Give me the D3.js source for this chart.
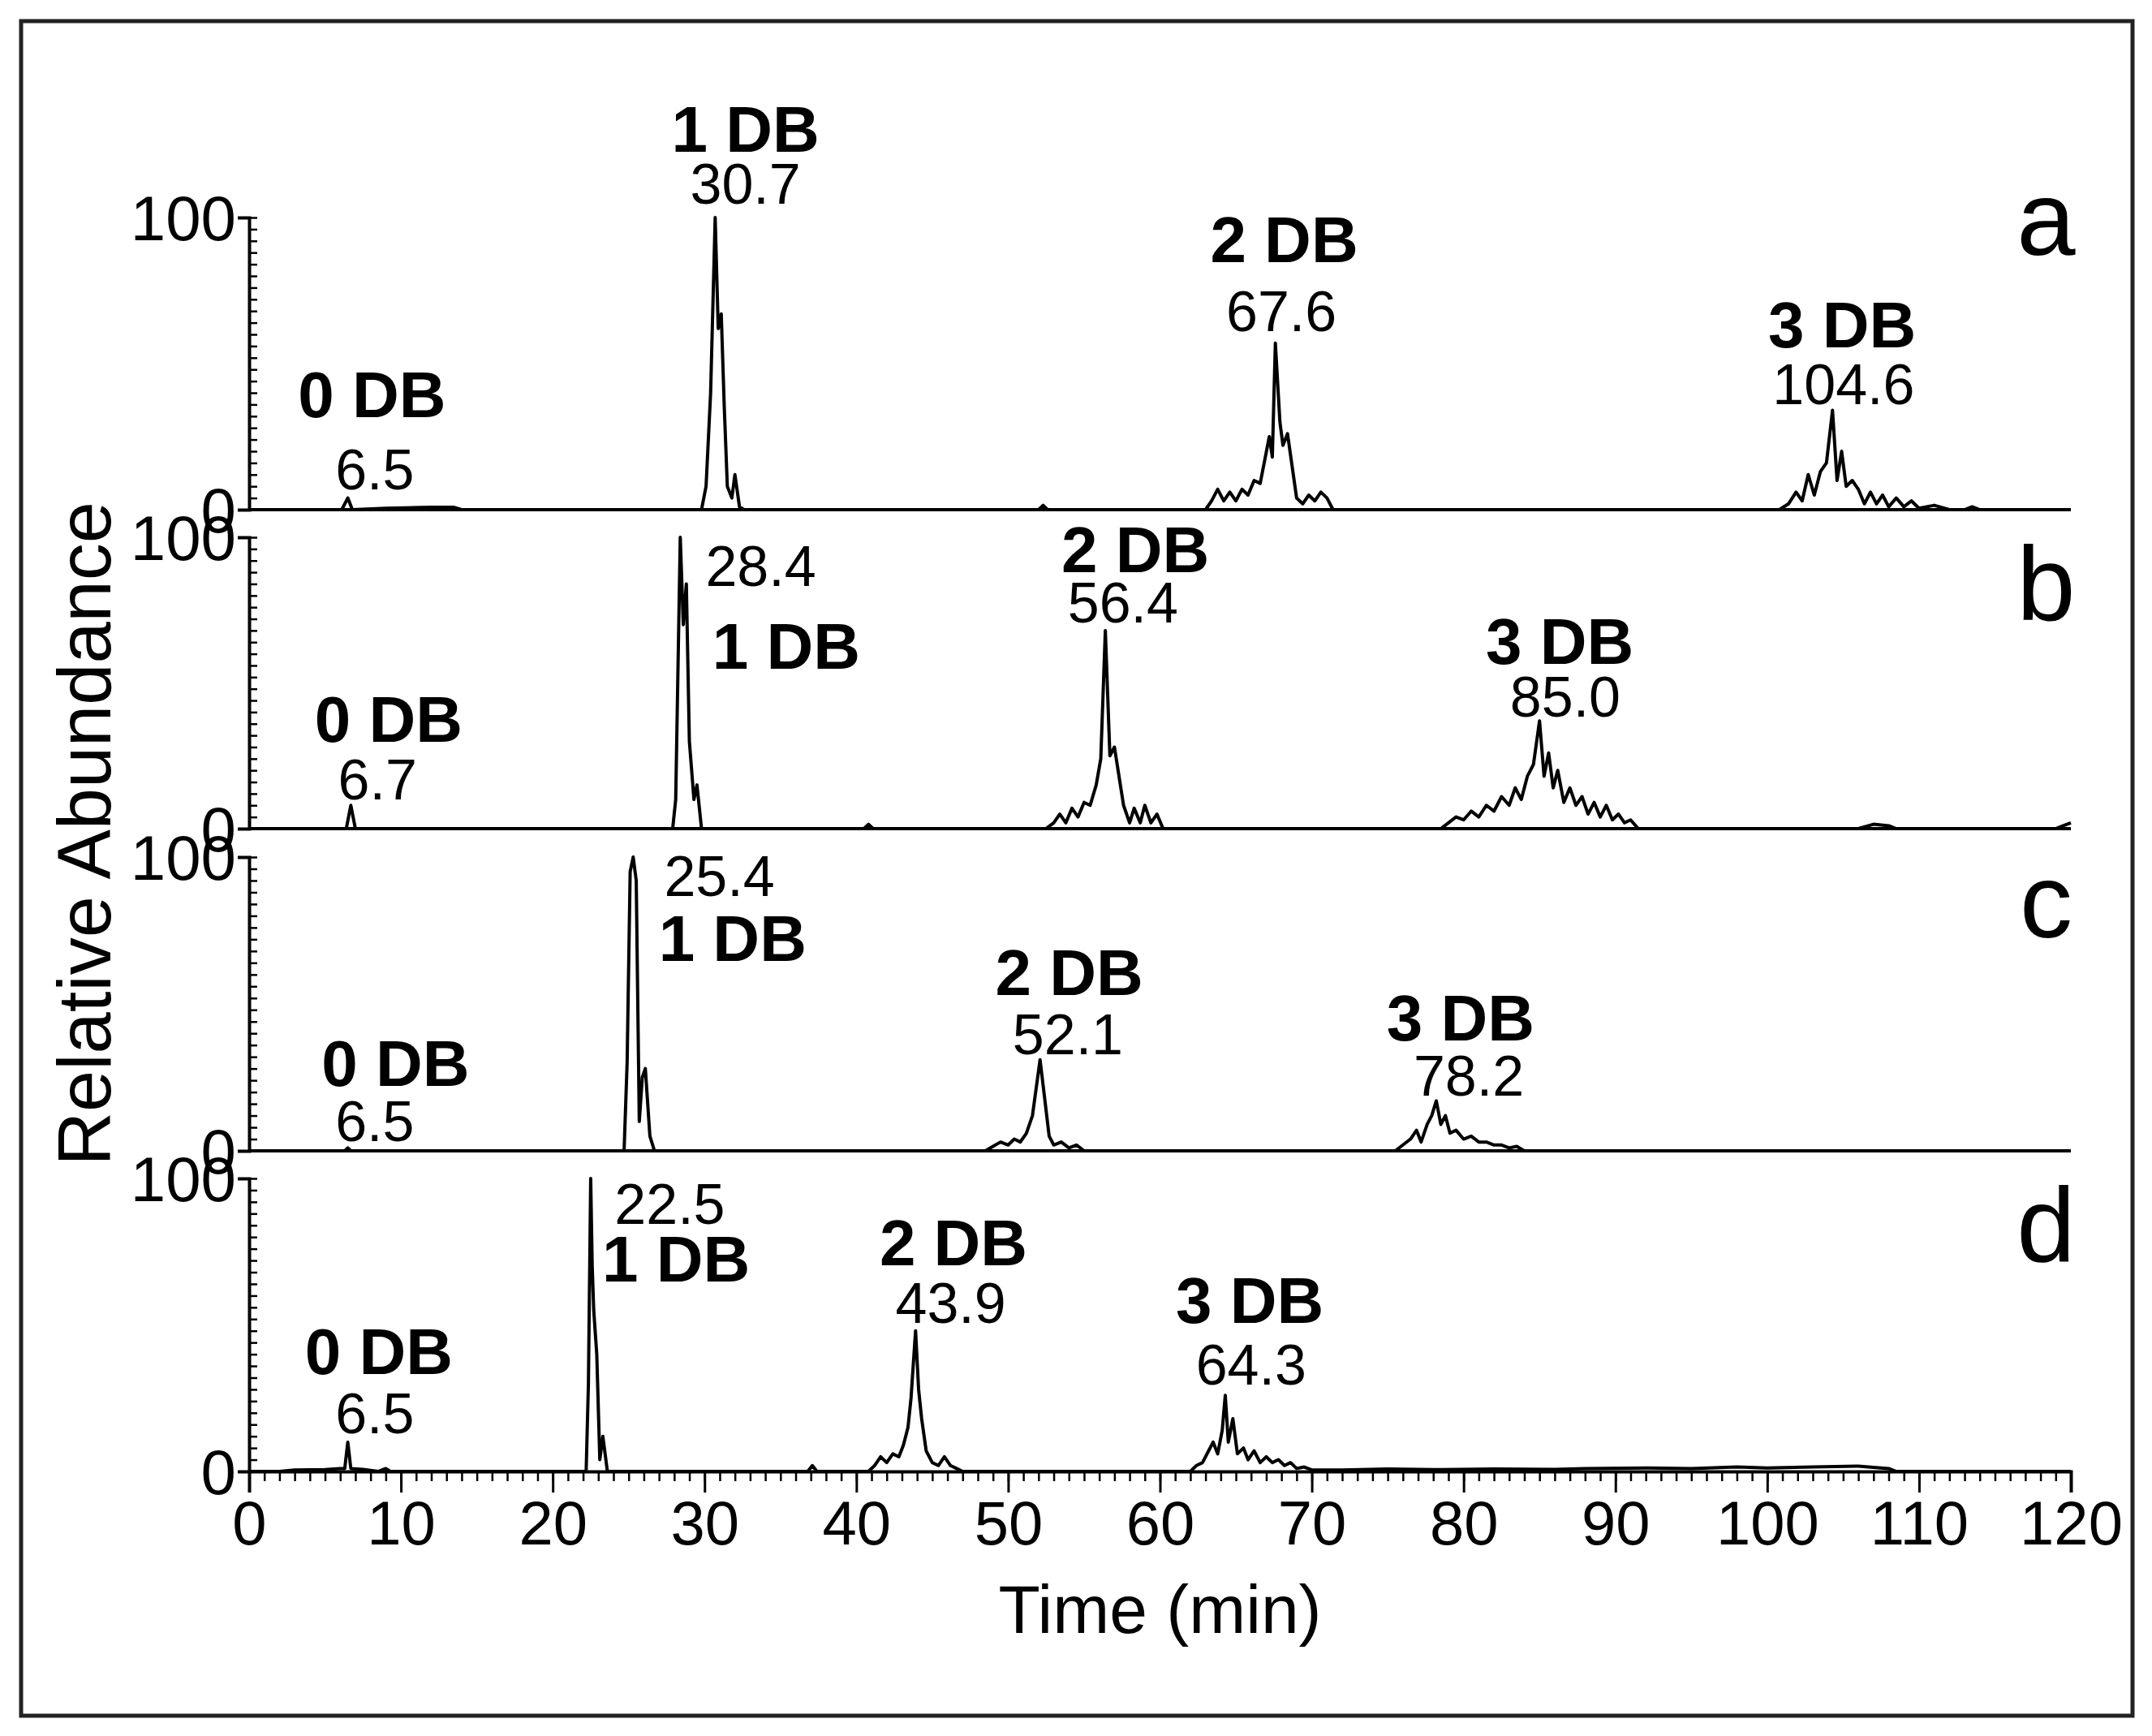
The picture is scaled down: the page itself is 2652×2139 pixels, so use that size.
<!DOCTYPE html>
<html><head><meta charset="utf-8">
<script src="https://cdn.jsdelivr.net/npm/d3@7"></script>
<style>body{margin:0;background:#fff}svg{display:block}</style>
</head><body>
<svg id="c" width="2652" height="2139"></svg>
<script>
// ---- data (time min, relative abundance %) ----
const panelNames = ["a","b","c","d"];
const traceA = [[0,0],[6.1,0],[6.5,4],[6.8,0],[9,0.5],[12,0.8],[13.5,0.8],[14,0],[29.8,0],[30.1,8],[30.4,40],[30.7,100],[30.9,62],[31.1,67],[31.3,35],[31.5,8],[31.8,4],[32,12],[32.3,1],[32.6,0],[52,0],[52.3,1.5],[52.6,0],[63,0],[63.4,3],[63.8,7],[64.2,3],[64.6,6],[65,3],[65.4,7],[65.8,5],[66.2,10],[66.6,9],[66.9,17],[67.2,25],[67.4,18],[67.6,57],[67.9,30],[68.1,22],[68.4,26],[68.7,15],[69,4],[69.4,2],[69.8,5],[70.2,3],[70.6,6],[71,4],[71.4,0],[100.8,0],[101.4,2],[101.9,6],[102.3,3],[102.7,12],[103.1,5],[103.5,13],[103.9,16],[104.3,34],[104.6,10],[104.9,20],[105.2,8],[105.6,10],[106,7],[106.4,2],[106.8,6],[107.2,2],[107.6,5],[108,1],[108.5,4],[109,1],[109.5,3],[110,0.5],[111,1.5],[112,0],[113,0],[113.5,1],[114,0],[120,0]];
const traceB = [[0,0],[6.4,0],[6.7,8],[7,0],[27.9,0],[28.1,10],[28.4,100],[28.6,70],[28.8,84],[29,30],[29.3,10],[29.5,15],[29.8,0],[40.5,0],[40.8,1.5],[41.1,0],[52.5,0],[53,2],[53.4,5],[53.8,2],[54.2,7],[54.6,4],[55,9],[55.4,8],[55.8,15],[56.1,24],[56.4,68],[56.7,25],[57,28],[57.3,18],[57.6,8],[58,2],[58.3,7],[58.7,2],[59,8],[59.4,2],[59.8,5],[60.2,0],[78.5,0],[79,2],[79.5,4],[80,3],[80.5,6],[81,4],[81.5,8],[82,6],[82.5,11],[83,8],[83.4,14],[83.8,10],[84.2,18],[84.6,22],[85,37],[85.3,18],[85.6,26],[85.9,14],[86.2,20],[86.6,9],[87,14],[87.4,8],[87.8,11],[88.2,5],[88.6,9],[89,4],[89.4,8],[89.8,3],[90.2,5],[90.6,2],[91,3],[91.5,0],[106,0],[107,1.5],[108,1],[108.5,0],[119,0],[120,2]];
const traceC = [[0,0],[6.3,0],[6.5,1],[6.7,0],[24.7,0],[24.9,30],[25.1,95],[25.3,100],[25.5,92],[25.7,10],[25.9,25],[26.1,28],[26.4,5],[26.7,0],[48.5,0],[49,1.5],[49.5,3],[50,2],[50.4,4],[50.8,3],[51.2,6],[51.6,12],[52.1,31],[52.4,18],[52.7,5],[53,2],[53.5,3],[54,1],[54.5,2],[55,0],[75.5,0],[76,2],[76.5,4],[76.9,7],[77.2,3],[77.6,9],[77.9,12],[78.2,17],[78.5,9],[78.8,12],[79.1,6],[79.5,7],[80,4],[80.5,5],[81,3],[81.5,3],[82,2],[82.5,2],[83,1],[83.5,1.5],[84,0],[120,0]];
const traceD = [[0,0],[2,0],[3,0.5],[5,0.6],[6,1],[6.3,1],[6.5,10],[6.7,1],[7.5,0.7],[8.5,0],[9,1],[9.3,0],[22.2,0],[22.35,30],[22.5,100],[22.6,70],[22.7,55],[22.9,40],[23.1,4],[23.3,12],[23.6,0],[36.8,0],[37.1,2],[37.4,0],[40.8,0],[41.2,2],[41.6,5],[42,3],[42.4,6],[42.8,5],[43.1,9],[43.4,15],[43.6,25],[43.9,48],[44.1,28],[44.3,18],[44.6,7],[45,3],[45.4,2],[45.8,5],[46.2,2],[46.6,1],[47,0],[62,0],[62.4,2],[62.8,3],[63.2,7],[63.5,10],[63.8,6],[64.1,14],[64.3,26],[64.5,10],[64.8,18],[65.1,6],[65.5,8],[65.8,4],[66.2,7],[66.6,3],[67,5],[67.4,3],[67.8,4],[68.2,2],[68.6,3],[69,1],[69.5,1.5],[70,0.5],[72,0.5],[75,0.8],[78,0.6],[82,0.8],[86,0.7],[88,1],[92,1.2],[95,1],[98,1.5],[100,1.2],[103,1.5],[106,1.8],[108,1],[108.5,0],[120,0]];
const traces = [traceA, traceB, traceC, traceD];
const xTicks = [0,10,20,30,40,50,60,70,80,90,100,110,120];
const yTickLabels = ["0","100"];
// labels: [panel, text, bold, anchor, xpx, ypx] (positions in layout pixels)
const k = 1.698;
const labels = [
 [0,"0 DB",1,"middle",270,303],[0,"6.5",0,"middle",272,355],[0,"1 DB",1,"middle",541,110],[0,"30.7",0,"middle",541,148],
 [0,"2 DB",1,"middle",932,190],[0,"67.6",0,"middle",930,240],[0,"3 DB",1,"middle",1337,252],[0,"104.6",0,"middle",1338,293],
 [1,"0 DB",1,"middle",282,538],[1,"6.7",0,"middle",274,580],[1,"28.4",0,"start",512,425],[1,"1 DB",1,"start",517,485],
 [1,"2 DB",1,"middle",824,415],[1,"56.4",0,"middle",815,452],[1,"3 DB",1,"middle",1132,482],[1,"85.0",0,"middle",1136,520],
 [2,"0 DB",1,"middle",287,788],[2,"6.5",0,"middle",272,828],[2,"25.4",0,"start",482,650],[2,"1 DB",1,"start",478,697],
 [2,"2 DB",1,"middle",776,722],[2,"52.1",0,"middle",775,765],[2,"3 DB",1,"middle",1060,755],[2,"78.2",0,"middle",1066,795],
 [3,"0 DB",1,"middle",275,997],[3,"6.5",0,"middle",272,1040],[3,"22.5",0,"start",446,888],[3,"1 DB",1,"start",437,930],
 [3,"2 DB",1,"middle",692,918],[3,"43.9",0,"middle",690,960],[3,"3 DB",1,"middle",907,960],[3,"64.3",0,"middle",908,1005]
];
const panelLetterY = [185,450,680,915];

// ---- layout ----
const F = "'Liberation Sans', Arial, sans-serif";
const svg = d3.select("#c");
svg.append("rect").attr("x",26).attr("y",26).attr("width",2602).attr("height",2088)
  .attr("fill","none").attr("stroke","#222").attr("stroke-width",5);
const x = d3.scaleLinear().domain([0,120]).range([307,2552]);
const panels = [[268,628],[662,1021],[1056,1418],[1452,1813]];
panels.forEach((p,i)=>{
  const y = d3.scaleLinear().domain([0,100]).range([p[1],p[0]]);
  const g = svg.append("g");
  const ya = d3.axisLeft(y).tickValues([0,100]).tickFormat((d,j)=>yTickLabels[j]).tickSize(14).tickPadding(2);
  const yg = g.append("g").attr("transform","translate(307,0)").call(ya);
  yg.select(".domain").attr("stroke-width",4);
  yg.selectAll(".tick line").attr("stroke-width",3);
  yg.selectAll("text").attr("font-family",F).attr("font-size",78).attr("dy","0.35em");
  const ym = d3.axisRight(y).tickValues(d3.range(0,101,4)).tickFormat("").tickSize(10);
  const ymg = g.append("g").attr("transform","translate(307,0)").call(ym);
  ymg.select(".domain").remove(); ymg.selectAll("line").attr("stroke-width",2.5);
  if(i<3){
    g.append("line").attr("x1",307).attr("x2",2552).attr("y1",y(0)).attr("y2",y(0)).attr("stroke","#000").attr("stroke-width",4);
  } else {
    const xa = d3.axisBottom(x).tickValues(xTicks).tickSize(26).tickPadding(10);
    const xg = g.append("g").attr("transform",`translate(0,${y(0)})`).call(xa);
    xg.select(".domain").attr("stroke-width",4);
    xg.selectAll(".tick line").attr("stroke-width",3);
    xg.selectAll("text").attr("font-family",F).attr("font-size",76);
    const xm = d3.axisBottom(x).tickValues(d3.range(0,121,1)).tickFormat("").tickSize(12);
    const xmg = g.append("g").attr("transform",`translate(0,${y(0)})`).call(xm);
    xmg.select(".domain").remove(); xmg.selectAll("line").attr("stroke-width",2.5);
  }
  const line = d3.line().x(d=>x(d[0])).y(d=>y(d[1]));
  g.append("path").datum(traces[i]).attr("d",line).attr("fill","none").attr("stroke","#000")
    .attr("stroke-width",4).attr("stroke-linejoin","round");
  g.append("text").attr("x",1485*k).attr("y",panelLetterY[i]*k).attr("text-anchor","middle")
    .attr("font-family",F).attr("font-size",130).text(panelNames[i]);
});
svg.selectAll("text.lab").data(labels).enter().append("text").attr("class","lab")
  .attr("x",d=>d[4]*k).attr("y",d=>d[5]*k).attr("text-anchor",d=>d[3])
  .attr("font-family",F).attr("font-weight",d=>d[2]?"bold":"normal")
  .attr("font-size",d=>d[2]?80:70).text(d=>d[1]);
svg.append("text").attr("x",x(60)).attr("y",1185*k).attr("text-anchor","middle")
  .attr("font-family",F).attr("font-size",84).text("Time (min)");
svg.append("text").attr("transform",`translate(${80*k},${605*k}) rotate(-90)`).attr("text-anchor","middle")
  .attr("font-family",F).attr("font-size",92).text("Relative Abundance");
</script>
</body></html>
